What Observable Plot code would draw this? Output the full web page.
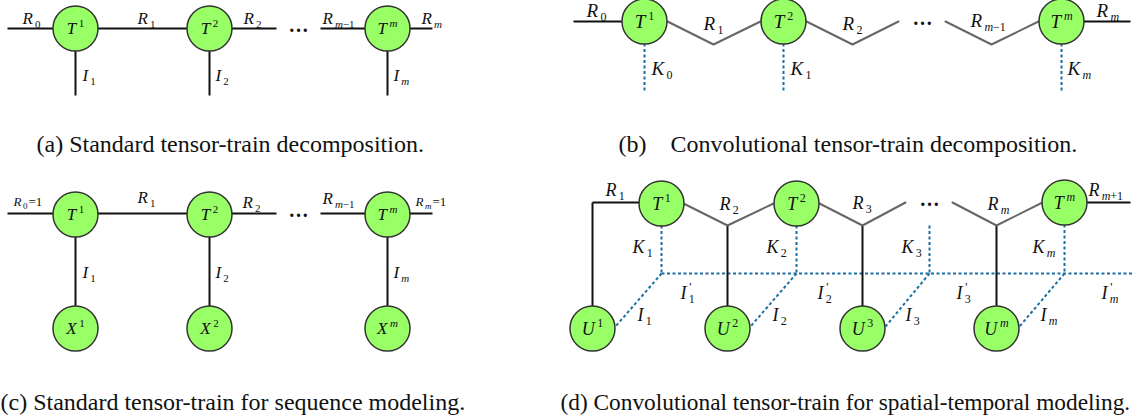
<!DOCTYPE html>
<html><head><meta charset="utf-8">
<script src="https://cdn.jsdelivr.net/npm/d3@7"></script>
<script src="https://cdn.jsdelivr.net/npm/@observablehq/plot@0.6"></script>
<style>body{margin:0;background:#fff} svg{display:block}</style>
</head><body><div id="chart"></div>
<script>
// ---------- DATA ----------
// tensor nodes: panel, letter, index (superscript), centre
const nodes = [
  {p:"a", base:"T", sup:"1", cx:75,  cy:28}, {p:"a", base:"T", sup:"2", cx:209, cy:28}, {p:"a", base:"T", sup:"m", cx:387, cy:28},
  {p:"b", base:"T", sup:"1", cx:644, cy:21}, {p:"b", base:"T", sup:"2", cx:783, cy:21}, {p:"b", base:"T", sup:"m", cx:1061, cy:21},
  {p:"c", base:"T", sup:"1", cx:75,  cy:214}, {p:"c", base:"T", sup:"2", cx:209, cy:214}, {p:"c", base:"T", sup:"m", cx:387, cy:214},
  {p:"c", base:"X", sup:"1", cx:75,  cy:328}, {p:"c", base:"X", sup:"2", cx:209, cy:328}, {p:"c", base:"X", sup:"m", cx:387, cy:328},
  {p:"d", base:"T", sup:"1", cx:661, cy:203}, {p:"d", base:"T", sup:"2", cx:796, cy:203}, {p:"d", base:"T", sup:"m", cx:1064, cy:202},
  {p:"d", base:"U", sup:"1", cx:592, cy:328}, {p:"d", base:"U", sup:"2", cx:727, cy:328}, {p:"d", base:"U", sup:"3", cx:862, cy:328},
  {p:"d", base:"U", sup:"m", cx:996, cy:328}
];

// solid black edges [x1,y1,x2,y2]
const solidEdges = [
  [7,28,75,28],[75,28,209,28],[209,28,276,28],[320,28,387,28],[387,28,432,28],
  [75,28,75,95],[209,28,209,95],[387,28,387,95],
  [573,21,644,21],[1061,21,1130,21],
  [7,213,75,213],[75,213,209,213],[209,213,276,213],[320,213,387,213],[387,213,432,213],
  [75,214,75,328],[209,214,209,328],[387,214,387,328],
  [592,202,661,202],[592,202,592,328],[727,225,727,328],[862,225,862,328],[996,225,996,328],[1064,202,1130,202]
];

// grey convolution zig-zags
const zigzags = [
  [[667,21],[713,44],[760,21]], [[806,21],[852,44],[898,21]], [[945,21],[991,44],[1038,21]],
  [[683,203],[727,225],[773,203]], [[819,203],[862,225],[905,202]], [[952,202],[996,225],[1042,202]]
];

// dashed blue edges
const dashedEdges = [
  [644,21,644,90],[783,21,783,90],[1061,21,1061,90],
  [661,203,661,273],[796,203,796,273],[929,225,929,273],[1064,202,1064,273],
  [661,273,1133,273],
  [661,273,615,326],[796,273,750,326],[929,273,885,326],[1064,273,1019,326]
];

// edge labels: panel, base letter, sub/superscript, left x, baseline y
const edgeLabels = [
  {p:"a", base:"R", sub:"0", x:22, y:23}, {p:"a", base:"R", sub:"1", x:137, y:23}, {p:"a", base:"R", sub:"2", x:243, y:23},
  {p:"a", base:"R", sub:"m−1", x:322, y:23}, {p:"a", base:"R", sub:"m", x:421, y:23},
  {p:"a", base:"I", sub:"1", x:82, y:80}, {p:"a", base:"I", sub:"2", x:215, y:80}, {p:"a", base:"I", sub:"m", x:393, y:80},

  {p:"b", base:"R", sub:"0", x:586, y:16}, {p:"b", base:"R", sub:"1", x:703, y:29}, {p:"b", base:"R", sub:"2", x:842, y:29},
  {p:"b", base:"R", sub:"m−1", x:970, y:26}, {p:"b", base:"R", sub:"m", x:1096, y:16},
  {p:"b", base:"K", sub:"0", x:651, y:74}, {p:"b", base:"K", sub:"1", x:790, y:74}, {p:"b", base:"K", sub:"m", x:1067, y:74},

  {p:"c", base:"R", sub:"1", x:137, y:202}, {p:"c", base:"R", sub:"2", x:242, y:207}, {p:"c", base:"R", sub:"m−1", x:322, y:203},
  {p:"c", base:"I", sub:"1", x:82, y:277}, {p:"c", base:"I", sub:"2", x:215, y:277}, {p:"c", base:"I", sub:"m", x:393, y:277},

  {p:"d", base:"R", sub:"1", x:605, y:195}, {p:"d", base:"R", sub:"2", x:719, y:209}, {p:"d", base:"R", sub:"3", x:852, y:208},
  {p:"d", base:"R", sub:"m", x:987, y:209}, {p:"d", base:"R", sub:"m+1", x:1088, y:195},
  {p:"d", base:"K", sub:"1", x:632, y:252}, {p:"d", base:"K", sub:"2", x:766, y:252}, {p:"d", base:"K", sub:"3", x:901, y:252},
  {p:"d", base:"K", sub:"m", x:1032, y:252},
  {p:"d", base:"I", sub:"1", sup:"'", x:680, y:298}, {p:"d", base:"I", sub:"2", sup:"'", x:817, y:298},
  {p:"d", base:"I", sub:"3", sup:"'", x:956, y:298}, {p:"d", base:"I", sub:"m", sup:"'", x:1101, y:298},
  {p:"d", base:"I", sub:"1", x:637, y:320}, {p:"d", base:"I", sub:"2", x:772, y:320}, {p:"d", base:"I", sub:"3", x:905, y:320},
  {p:"d", base:"I", sub:"m", x:1040, y:320}
];
// smaller boundary labels of panel (c)
const smallLabels = [
  {base:"R", sub:"0", rest:"=1", x:13, y:205},
  {base:"R", sub:"m", rest:"=1", x:415, y:205}
];

const ellipses = [ {x:298, y:31}, {x:298, y:216}, {x:922, y:24}, {x:929, y:205} ];

const captions = [
  {text:"(a) Standard tensor-train decomposition.", x:36, y:151},
  {text:"(b)\u00a0\u00a0\u00a0 Convolutional tensor-train decomposition.", x:618, y:151},
  {text:"(c) Standard tensor-train for sequence modeling.", x:0, y:409},
  {text:"(d) Convolutional tensor-train for spatial-temporal modeling.", x:560, y:409}
];

// ---------- LAYOUT HELPERS ----------
const FONT = "Liberation Serif";
const W = 1133, H = 419;
const panelFont = {a: 17, b: 19, c: 17, d: 18};
const ctx = document.createElement("canvas").getContext("2d");
function tw(s, size, italic) {
  ctx.font = `${italic ? "italic " : ""}${size}px "${FONT}"`;
  return ctx.measureText(s).width;
}
function split(s) { const m = s.match(/^([a-z]*)(.*)$/); return [m[1], m[2]]; }

const pieces = [];
function addScript(s, x, y, size) {
  const [it, up] = split(s);
  if (it) { pieces.push({x, y, text: it, italic: true, size}); x += tw(it, size, true); }
  if (up) { pieces.push({x, y, text: up, italic: false, size}); x += tw(up, size, false); }
  return x;
}
function addLabel(l, S, s) {
  pieces.push({x: l.x, y: l.y, text: l.base, italic: true, size: S});
  const xb = l.x + tw(l.base, S, true);
  let xe = xb;
  if (l.sub) xe = addScript(l.sub, xb + 0.12 * S, l.y + 0.25 * S, s);
  if (l.sup) addScript(l.sup, xb + 0.15 * S, l.y - 0.42 * S, s);
  if (l.rest) pieces.push({x: xe + 1, y: l.y, text: l.rest, italic: false, size: S});
}
edgeLabels.forEach(l => { const S = panelFont[l.p]; addLabel(l, S, Math.round(S * 0.65)); });
smallLabels.forEach(l => addLabel(l, 13, 9));
nodes.forEach(n => {
  const S = panelFont[n.p], s = Math.round(S * 0.65);
  const total = tw(n.base, S, true) + 0.15 * S + tw(n.sup, s, split(n.sup)[0] !== "");
  addLabel({base: n.base, sup: n.sup, x: n.cx - total / 2, y: n.cy + 0.35 * S}, S, s);
});

// captions at 24px, shrunk just enough to stay inside the frame
const captionRows = captions.map(c => {
  const w = tw(c.text, 24, false);
  return {...c, size: Math.min(24, 24 * (W - 3 - c.x) / w)};
});

const zigPoints = zigzags.flatMap((p, i) => p.map(([x, y]) => ({x, y, z: i})));

// ---------- PLOT ----------
const chart = Plot.plot({
  width: W, height: H, margin: 0,
  x: {domain: [0, W], range: [0, W], axis: null},
  y: {domain: [0, H], range: [0, H], axis: null},
  style: {background: "#fff", fontFamily: FONT},
  marks: [
    Plot.link(dashedEdges, {x1: d => d[0], y1: d => d[1], x2: d => d[2], y2: d => d[3],
      stroke: "#1b6ea5", strokeWidth: 2, strokeDasharray: "3,2.5"}),
    Plot.link(solidEdges, {x1: d => d[0], y1: d => d[1], x2: d => d[2], y2: d => d[3],
      stroke: "#111", strokeWidth: 2}),
    Plot.line(zigPoints, {x: "x", y: "y", z: "z", stroke: "#666", strokeWidth: 2}),
    Plot.dot(nodes, {x: "cx", y: "cy", r: 22.5, fill: "#99ff66", stroke: "#333", strokeWidth: 1.5}),
    Plot.text(pieces.filter(p => p.italic), {x: "x", y: "y", text: "text", fontSize: "size",
      fontStyle: "italic", textAnchor: "start", lineAnchor: "bottom", fill: "#111"}),
    Plot.text(pieces.filter(p => !p.italic), {x: "x", y: "y", text: "text", fontSize: "size",
      textAnchor: "start", lineAnchor: "bottom", fill: "#111"}),
    Plot.text(ellipses, {x: "x", y: "y", text: () => "…", fontSize: 20, fontWeight: "bold",
      textAnchor: "middle", lineAnchor: "bottom", fill: "#111"}),
    Plot.text(captionRows, {x: "x", y: "y", text: "text", fontSize: "size", textAnchor: "start",
      lineAnchor: "bottom", fill: "#111"})
  ]
});
document.getElementById("chart").append(chart);
</script>
</body></html>
